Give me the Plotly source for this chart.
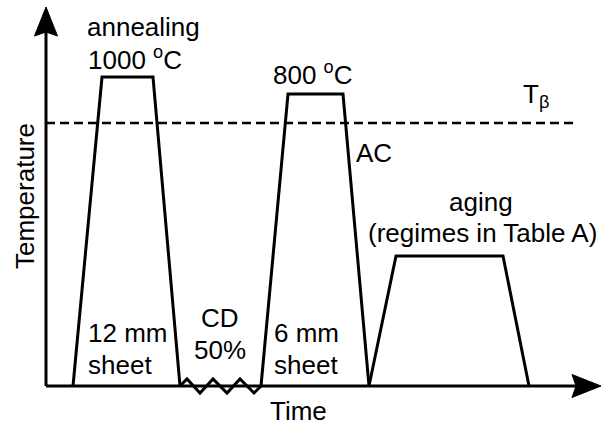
import plotly.graph_objects as go

# ---- data (time / temperature in arbitrary schematic units) ----
# heat-treatment profile: annealing 1000 C, then (after CD) 800 C + AC, then aging
anneal_time = [27, 56, 107, 134]
anneal_temp = [0, 309, 309, 0]
cd_time = [134, 141, 154, 167, 181, 194, 208, 215]
cd_temp = [0, 7, -7, 7, -7, 7, -7, 0]
solution_time = [215, 242, 297, 323]
solution_temp = [0, 292, 292, 0]
aging_time = [323, 350, 457, 483]
aging_temp = [0, 130, 130, 0]
t_beta = 263
t_beta_end = 528
time_axis_end = 555
temp_axis_end = 379

# ---- figure geometry: 1 data unit = 1 px, origin at axis corner ----
X0, Y0 = 46, 386
W, H = 604, 426
FONT = "Liberation Sans, Arial, sans-serif"
LW = 3


def P(px, py):
    return px - X0, Y0 - py


fig = go.Figure()
blk = dict(color="black", width=LW)

for t, T in [(anneal_time, anneal_temp), (cd_time, cd_temp),
             (solution_time, solution_temp), (aging_time, aging_temp)]:
    fig.add_trace(go.Scatter(x=t, y=T, mode="lines", line=dict(blk, shape="linear"),
                             hoverinfo="skip", showlegend=False))

# T_beta dashed line
fig.add_trace(go.Scatter(x=[0, t_beta_end], y=[t_beta, t_beta], mode="lines",
                         line=dict(color="black", width=2.6, dash="9px,5px"),
                         hoverinfo="skip", showlegend=False))

# axes lines
head_len, head_half, notch = 29, 11.5, 4
fig.add_trace(go.Scatter(x=[0, time_axis_end - head_len + notch], y=[0, 0], mode="lines",
                         line=blk, hoverinfo="skip", showlegend=False))
fig.add_trace(go.Scatter(x=[0, 0], y=[0, temp_axis_end - head_len + notch], mode="lines",
                         line=blk, hoverinfo="skip", showlegend=False))
# arrow heads (derived from axis ends)
fig.add_trace(go.Scatter(
    x=[time_axis_end, time_axis_end - head_len, time_axis_end - head_len + notch,
       time_axis_end - head_len, time_axis_end],
    y=[0, head_half, 0, -head_half, 0], mode="lines", fill="toself",
    fillcolor="black", line=dict(color="black", width=1),
    hoverinfo="skip", showlegend=False))
fig.add_trace(go.Scatter(
    y=[temp_axis_end, temp_axis_end - head_len, temp_axis_end - head_len + notch,
       temp_axis_end - head_len, temp_axis_end],
    x=[0, head_half, 0, -head_half, 0], mode="lines", fill="toself",
    fillcolor="black", line=dict(color="black", width=1),
    hoverinfo="skip", showlegend=False))

FS = 26
labels = [
    ("annealing", 143, 27, "center", 0),
    ("1000 <sup>o</sup>C", 135, 58, "center", 0),
    ("800 <sup>o</sup>C", 313, 73, "center", 0),
    ("T<sub>β</sub>", 521, 95, "left", 0),
    ("AC", 354, 153, "left", 0),
    ("aging", 481, 202, "center", 0),
    ("(regimes in Table A)", 482, 233, "center", 0),
    ("12 mm", 86, 333, "left", 0),
    ("sheet", 86, 365, "left", 0),
    ("CD", 220, 318, "center", 0),
    ("50%", 220, 350, "center", 0),
    ("6 mm", 272, 333, "left", 0),
    ("sheet", 272, 365, "left", 0),
    ("Time", 298, 411, "center", 0),
    ("Temperature", 25, 196, "center", -90),
]
for txt, px, py, anc, rot in labels:
    x, y = P(px, py)
    fig.add_annotation(x=x, y=y, xref="x", yref="y", text=txt, showarrow=False,
                       xanchor=anc, yanchor="middle", textangle=rot,
                       font=dict(family=FONT, size=FS, color="black"))

fig.update_layout(
    width=W, height=H, margin=dict(l=0, r=0, t=0, b=0),
    paper_bgcolor="white", plot_bgcolor="white", showlegend=False,
    xaxis=dict(range=[-X0, W - X0], visible=False, fixedrange=True),
    yaxis=dict(range=[Y0 - H, Y0], visible=False, fixedrange=True),
)
fig.write_html("out.html", config={"displayModeBar": False})

# remove the browser's default page margin so the figure sits at (0, 0)
with open("out.html", encoding="utf-8") as f:
    html = f.read()
html = html.replace("<head>", "<head><style>html,body{margin:0;padding:0;overflow:hidden;}</style>", 1)
with open("out.html", "w", encoding="utf-8") as f:
    f.write(html)
